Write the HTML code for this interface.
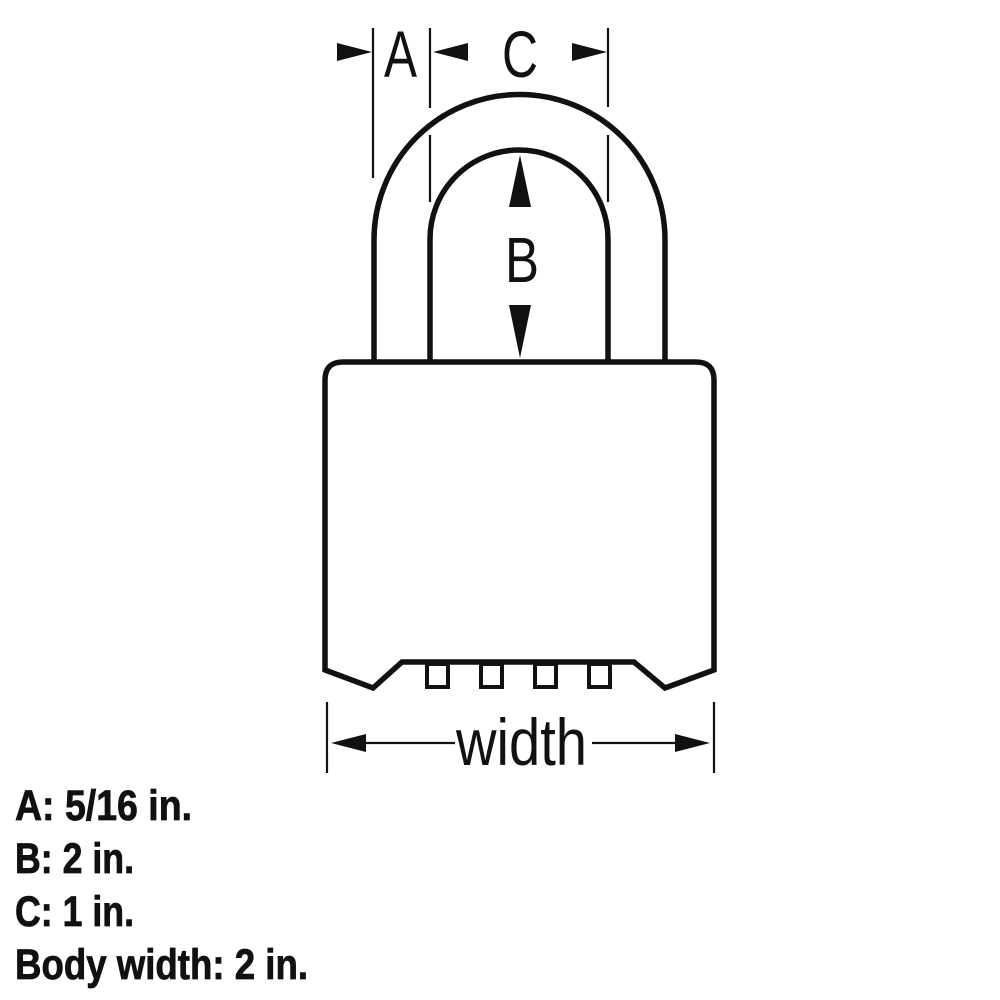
<!DOCTYPE html>
<html><head><meta charset="utf-8"><style>html,body{margin:0;padding:0;background:#fff}svg{display:block}</style></head>
<body>
<svg width="1000" height="1000" viewBox="0 0 1000 1000" xmlns="http://www.w3.org/2000/svg">
<g fill="none" stroke="#111" stroke-width="5.5" stroke-linejoin="miter">
  <path d="M374 362 V240 A145.5 145.5 0 0 1 665 240 V362"/>
  <path d="M430 362 V239 A89 89 0 0 1 608 239 V362"/>
  <path d="M325 670 V380 Q325 362 343 362 H696 Q714 362 714 380 V670 L665 688 L634 662 H402 L373 688 Z"/>
</g>
<g fill="none" stroke="#111" stroke-width="4">
  <rect x="427" y="664" width="21" height="23"/>
  <rect x="481" y="664" width="21" height="23"/>
  <rect x="535" y="664" width="21" height="23"/>
  <rect x="589" y="664" width="21" height="23"/>
</g>
<g stroke="#111" stroke-width="2.2">
  <line x1="373" y1="28" x2="373" y2="178"/>
  <line x1="430" y1="28" x2="430" y2="108"/>
  <line x1="430" y1="135" x2="430" y2="202"/>
  <line x1="608" y1="28" x2="608" y2="107"/>
  <line x1="608" y1="135" x2="608" y2="202"/>
  <line x1="327" y1="702" x2="327" y2="773"/>
  <line x1="714" y1="702" x2="714" y2="773"/>
  <line x1="340" y1="743" x2="455" y2="743"/>
  <line x1="592" y1="743" x2="705" y2="743"/>
</g>
<g fill="#111">
  <polygon points="337,43 372,52 337,61"/>
  <polygon points="468,43 433,52 468,61"/>
  <polygon points="572,43 607,52 572,61"/>
  <polygon points="520,155 509,207 531,207"/>
  <polygon points="520,358 509,305 531,305"/>
  <polygon points="331,743 366,734 366,752"/>
  <polygon points="710,743 675,734 675,752"/>
</g>
<g font-family="Liberation Sans, sans-serif" fill="#111">
  <text x="384" y="77" font-size="66" textLength="33" lengthAdjust="spacingAndGlyphs">A</text>
  <text x="502" y="77" font-size="66" textLength="36" lengthAdjust="spacingAndGlyphs">C</text>
  <text x="505" y="282" font-size="64" textLength="34" lengthAdjust="spacingAndGlyphs">B</text>
  <text x="456" y="765" font-size="66" textLength="131" lengthAdjust="spacingAndGlyphs">width</text>
</g>
<g font-family="Liberation Sans, sans-serif" font-weight="bold" fill="#111" font-size="43" stroke="#111" stroke-width="0.8">
  <text x="15" y="820" textLength="177" lengthAdjust="spacingAndGlyphs">A: 5/16 in.</text>
  <text x="15" y="873" textLength="119" lengthAdjust="spacingAndGlyphs">B: 2 in.</text>
  <text x="15" y="926" textLength="119" lengthAdjust="spacingAndGlyphs">C: 1 in.</text>
  <text x="15" y="979" textLength="293" lengthAdjust="spacingAndGlyphs">Body width: 2 in.</text>
</g>
</svg>
</body></html>
